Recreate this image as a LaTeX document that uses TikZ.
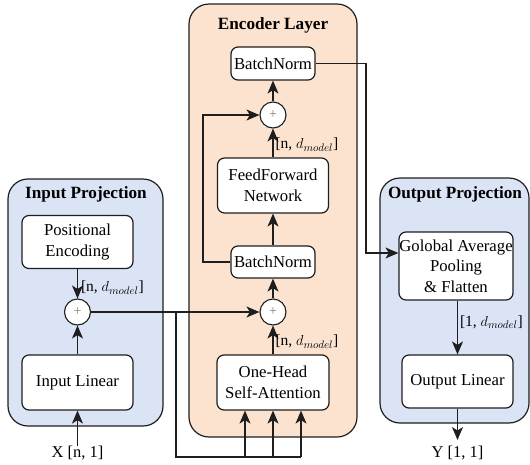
\documentclass[tikz,border=0pt]{standalone}
\usepackage{fontspec}
\setmainfont{Liberation Serif}
\usetikzlibrary{arrows.meta,positioning}

\definecolor{projblue}{RGB}{219,228,245}
\definecolor{encpeach}{RGB}{251,227,207}
\definecolor{linegray}{RGB}{30,30,30}

\tikzset{
  panel/.style={draw=linegray, line width=1.2pt, rounded corners=20pt},
  block/.style={draw=linegray, fill=white, line width=1.2pt, rounded corners=7pt,
    align=center, inner sep=0pt, font=\fontsize{16.7}{20.5}\selectfont},
  paneltitle/.style={font=\fontsize{17.2}{20}\selectfont\bfseries},
  adder/.style={draw=linegray, fill=white, circle, line width=1.1pt,
    minimum size=26pt, inner sep=0pt,
    font=\fontsize{14}{14}\selectfont\color{gray}},
  wire/.style={line width=1.1pt, draw=linegray},
  flow/.style={wire, arrows={-Stealth[length=13pt,width=11pt,inset=3.5pt,fill=linegray]}},
  dimlabel/.style={font=\fontsize{15.5}{18}\selectfont, inner sep=0pt},
  iolabel/.style={font=\fontsize{16.5}{20}\selectfont, inner sep=0pt}
}

\begin{document}
\begin{tikzpicture}[x=1pt,y=-1pt]
\useasboundingbox (0,0) rectangle (530,464);

% panels
\draw[panel, fill=projblue] (8,179) rectangle (163,426);
\draw[panel, fill=encpeach] (189,4) rectangle (357,437);
\draw[panel, fill=projblue] (380,178) rectangle (529,423);

\node[paneltitle] (tin)  at (86,194) {Input Projection};
\node[paneltitle] (tenc) at (273,25) {Encoder Layer};
\node[paneltitle] (tout) at (455,194) {Output Projection};

% input projection
\node[block, minimum width=111pt, minimum height=53pt] (pe) at (77.5,242) {Positional\\Encoding};
\node[block, minimum width=111pt, minimum height=55pt] (inlin) at (77.5,382.5) {Input Linear};
\node[adder] (add1) at (77.5,312) {+};
\node[iolabel] (x) at (77.5,453) {X [n, 1]};

% encoder layer
\node[block, minimum width=84pt, minimum height=33pt] (bntop) at (273,63.5) {BatchNorm};
\node[adder] (add3) at (273,115) {+};
\node[block, minimum width=111pt, minimum height=55pt] (ff) at (273,185.5) {FeedForward\\Network};
\node[block, minimum width=84pt, minimum height=32pt] (bnmid) at (273,262) {BatchNorm};
\node[adder] (add2) at (273,312) {+};
\node[block, minimum width=112pt, minimum height=55pt] (attn) at (273,382.5) {One-Head\\Self-Attention};

% output projection
\node[block, minimum width=114pt, minimum height=68pt] (gap) at (456,266) {Golobal Average\\Pooling\\\& Flatten};
\node[block, minimum width=111pt, minimum height=53pt] (outlin) at (457.5,381.5) {Output Linear};
\node[iolabel] (y) at (457.5,453) {Y [1, 1]};

% routing points
\coordinate (split) at (176,312);
\coordinate (floor) at (176,457);
\coordinate (qin) at (245,457);
\coordinate (kin) at (273,457);
\coordinate (vin) at (301,457);
\coordinate (skipbot) at (203,262);
\coordinate (skiptop) at (203,115);
\coordinate (outturn) at (366,63.5);
\coordinate (outdown) at (366,253);
\coordinate (yend) at (457.5,440);

% input projection flow
\draw[flow] (x.north) -- (inlin.south);
\draw[flow] (inlin.north) -- (add1.south);
\draw[flow] (pe.south) -- (add1.north)
  node[dimlabel, pos=0.62, anchor=west, xshift=3pt] {[n, $d_{model}$]};

% residual input into encoder and its three projections
\draw[flow] (add1.east) -- (add2.west);
\draw[wire] (split) -- (floor) -- (vin);
\draw[flow] (qin) -- (qin |- attn.south);
\draw[flow] (kin) -- (attn.south);
\draw[flow] (vin) -- (vin |- attn.south);

% encoder flow
\draw[flow] (attn.north) -- (add2.south)
  node[dimlabel, pos=0.45, anchor=west, xshift=2pt] {[n, $d_{model}$]};
\draw[flow] (add2.north) -- (bnmid.south);
\draw[flow] (bnmid.north) -- (ff.south);
\draw[flow] (bnmid.west) -- (skipbot) -- (skiptop) -- (add3.west);
\draw[flow] (ff.north) -- (add3.south)
  node[dimlabel, pos=0.45, anchor=west, xshift=2pt] {[n, $d_{model}$]};
\draw[flow] (add3.north) -- (bntop.south);

% encoder output into pooling
\draw[flow] (bntop.east) -- (outturn) -- (outdown) -- (outdown -| gap.west);

% output projection flow
\draw[flow] (gap.south -| outlin.north) -- (outlin.north)
  node[dimlabel, pos=0.4, anchor=west, xshift=2pt] {[1, $d_{model}$]};
\draw[flow] (outlin.south) -- (yend);

\end{tikzpicture}
\end{document}
